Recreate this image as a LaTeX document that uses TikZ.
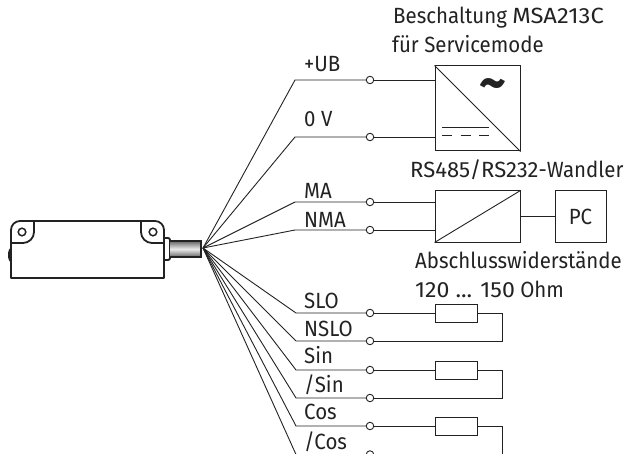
\documentclass[tikz,border=0pt]{standalone}
\usepackage{fontspec}
\setmainfont[FakeStretch=.93]{Fira Sans}
\newcommand{\stretched}[2]{{\addfontfeature{FakeStretch=#1}#2}}
\definecolor{ink}{HTML}{222222}
\tikzset{
  wire/.style={draw=ink,line width=.9pt},
  outline/.style={draw=ink,line width=1.8pt},
  terminal/.style={circle,draw=ink,fill=white,line width=.9pt,inner sep=0pt,minimum size=7.5pt},
  signal/.style={anchor=base west,inner sep=0pt,text=ink,font=\fontsize{22}{24}\selectfont},
  caption/.style={signal},
  unit/.style={rectangle,draw=ink,line width=1pt,inner sep=0pt},
  resistor/.style={unit,minimum width=42pt,minimum height=18pt}
}
\begin{document}
\begin{tikzpicture}[x=1pt,y=-1pt]
   \useasboundingbox (0,0) rectangle (628,454);
   \clip (0,0) rectangle (628,454);

   % sensor housing
   \fill[ink] (11,248) arc(270:90:3 and 7) -- cycle;
   \draw[outline,line join=round] (11,278) -- (11,230) arc(180:270:9) -- (155,221)
   arc(270:360:9) -- (164,278) -- cycle;
   \draw[outline] (34,221) -- (34,232) arc(0:90:11) -- (11,243);
   \draw[outline] (141,221) -- (141,232) arc(180:90:11) -- (164,243);
   \draw[draw=ink,line width=1.5pt] (22,232) circle(3.8);
   \draw[draw=ink,line width=1.5pt] (153,232) circle(3.8);
   \draw[outline,rounded corners=2pt] (164,238) -- (170,238) -- (170,260) -- (164,260);
   \shade[top color=gray!80!black,bottom color=gray!80!black,middle color=gray!15]
   (170,241) rectangle (201,257);
   \draw[outline] (170,241) -- (201,241) -- (201,257) -- (170,257);
   \coordinate (cable) at (203,248);

   % boxes on the right
   \node[unit,minimum width=85pt,minimum height=85pt] (supply) at (477.5,108.5) {};
   \node[unit,minimum width=85pt,minimum height=51pt] (conv) at (477.5,216.5) {};
   \node[unit,minimum width=51pt,minimum height=51pt,text=ink,font=\fontsize{22}{24}\selectfont] (pc) at (580.5,216.5) {PC};
   \draw[wire] (supply.north west) -- (supply.south east);
   \draw[wire] (conv.south west) -- (conv.north east);
   \draw[wire] (conv.east) -- (pc);
   \node[text=ink,inner sep=0pt,font=\fontsize{56}{56}\selectfont\bfseries] (tilde) at (493,90.5) {\symbol{126}};
   \coordinate (dcA) at (442,127);
   \coordinate (dcB) at (489,127);
   \coordinate (dcC) at (442,135);
   \coordinate (dcD) at (489,135);
   \draw[wire] (dcA) -- (dcB);
   \draw[wire,dash pattern=on 10pt off 8.5pt] (dcC) -- (dcD);

   % signal wires
   \foreach \sig/\ypos/\ybase/\txt/\xbend in {UB/80/72/+UB/295,OV/137/127/0 V/295,MA/202/199/MA/295,
      NMA/230/227/NMA/295,SLO/313/308/SLO/296,NSLO/341/336/NSLO/296,Sin/370/363/Sin/296,
      NSin/398/392/{/Sin}/296,Cos/426/419/Cos/296,NCos/454.5/449/{/Cos}/296}{
      \coordinate (b\sig) at (\xbend,\ypos);
      \node[terminal] (t\sig) at (370,\ypos) {};
      \node[signal] (l\sig) at (304,\ybase) {\txt};
      \draw[wire] (cable) -- (b\sig) -- (t\sig);
   }
   \draw[wire] (tUB) -- (tUB -| supply.west);
   \draw[wire] (tOV) -- (tOV -| supply.west);
   \draw[wire] (tMA) -- (tMA -| conv.west);
   \draw[wire] (tNMA) -- (tNMA -| conv.west);

   % terminating resistors
   \foreach \hot/\cold in {SLO/NSLO,Sin/NSin,Cos/NCos}{
      \path (t\hot) ++(86,0) node[resistor] (r\hot) {};
      \draw[wire] (t\hot) -- (r\hot);
      \draw[wire] (r\hot.east) -- ++(25,0) |- (t\cold);
   }

   % captions
   \node[caption] (capA) at (393,24) {Beschaltung \stretched{1.08}{MSA213C}};
   \node[caption] (capB) at (392,53) {für Servicemode};
   \node[caption] (capC) at (410,178) {\stretched{1.0}{RS485/RS232}-Wandler};
   \node[caption] (capD) at (415,268) {Abschlusswiderstände};
   \node[caption] (capE) at (415,297) {\stretched{1.05}{120 ... 150} Ohm};
 \end{tikzpicture}
\end{document}
